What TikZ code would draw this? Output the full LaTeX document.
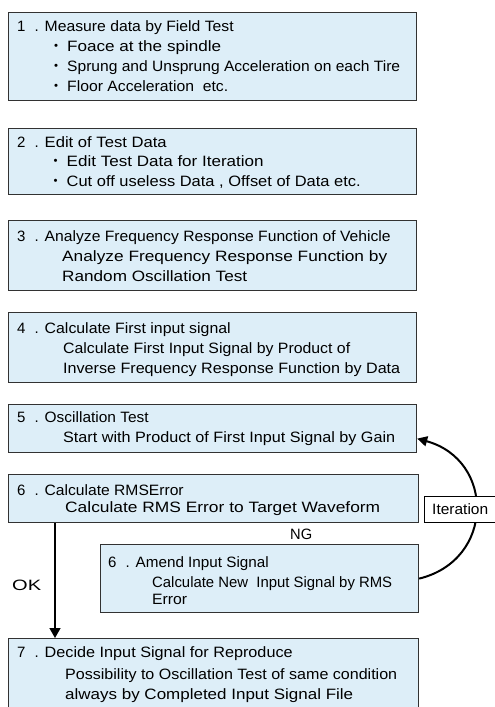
\documentclass[tikz,border=0pt]{standalone}
\usepackage{fontspec}
\usepackage{graphicx}
\setmainfont{Liberation Sans}
\newfontfamily\cjk{Noto Sans CJK JP}
\usetikzlibrary{arrows.meta}
\definecolor{boxfill}{RGB}{221,238,248}
\definecolor{boxline}{RGB}{50,50,50}
\newcommand{\bul}{{\cjk ・}\hspace{3.5pt}}
\newcommand{\num}[1]{#1\hspace{9pt}.\hspace{6pt}}
\newcommand{\tw}[2]{\resizebox{#1pt}{\height}{#2}}
\begin{document}
\begin{tikzpicture}[x=1pt,y=-1pt,
  box/.style={draw=boxline, fill=boxfill, line width=1.2pt, rectangle, inner sep=0pt, anchor=north west},
  txt/.style={anchor=base west, inner sep=0pt, font=\fontsize{15}{18}\selectfont},
  flow/.style={draw=black, line width=1.5pt}]
\useasboundingbox (0,0) rectangle (495,707);
\node[box, minimum width=408pt, minimum height=88pt] (b1) at (8,12) {};
\node[box, minimum width=408pt, minimum height=66pt] (b2) at (8,128) {};
\node[box, minimum width=408pt, minimum height=70pt] (b3) at (8,220) {};
\node[box, minimum width=408pt, minimum height=70pt] (b4) at (8,312) {};
\node[box, minimum width=408pt, minimum height=48pt] (b5) at (8,404) {};
\node[box, minimum width=410pt, minimum height=48pt] (b6) at (8,474) {};
\node[box, minimum width=318pt, minimum height=68pt] (bA) at (100,544) {};
\node[box, minimum width=410pt, minimum height=77pt] (b7) at (8,638) {};

\node[txt] (t1a) at (17,31) {\num{1}\tw{189}{Measure data by Field Test}};
\node[txt] (t1b) at (48.5,51) {\bul\tw{154}{Foace at the spindle}};
\node[txt] (t1c) at (48.5,71) {\bul\tw{333}{Sprung and Unsprung Acceleration on each Tire}};
\node[txt] (t1d) at (48.5,91) {\bul\tw{161}{Floor Acceleration\ \ etc.}};

\node[txt] (t2a) at (17,147) {\num{2}\tw{122}{Edit of Test Data}};
\node[txt] (t2b) at (48,166) {\bul\tw{197}{Edit Test Data for Iteration}};
\node[txt] (t2c) at (48,186) {\bul\tw{294}{Cut off useless Data , Offset of Data etc.}};

\node[txt] (t3a) at (17,241) {\num{3}\tw{346}{Analyze Frequency Response Function of Vehicle}};
\node[txt] (t3b) at (62,261) {\tw{325}{Analyze Frequency Response Function by}};
\node[txt] (t3c) at (62,281) {\tw{185}{Random Oscillation Test}};

\node[txt] (t4a) at (17,333) {\num{4}\tw{186}{Calculate First input signal}};
\node[txt] (t4b) at (63,353) {\tw{287}{Calculate First Input Signal by Product of}};
\node[txt] (t4c) at (63,373) {\tw{337}{Inverse Frequency Response Function by Data}};

\node[txt] (t5a) at (17,422) {\num{5}\tw{104}{Oscillation Test}};
\node[txt] (t5b) at (63,442) {\tw{332}{Start with Product of First Input Signal by Gain}};

\node[txt] (t6a) at (17,495) {\num{6}\tw{139}{Calculate RMSError}};
\node[txt] (t6b) at (65,512) {\tw{315}{Calculate RMS Error to Target Waveform}};

\node[txt] (tAa) at (108,567) {\num{6}\tw{133}{Amend Input Signal}};
\node[txt] (tAb) at (152,587) {\tw{240}{Calculate New\ \ Input Signal by RMS}};
\node[txt] (tAc) at (152,604) {\tw{35}{Error}};

\node[txt] (t7a) at (17,657) {\num{7}\tw{248}{Decide Input Signal for Reproduce}};
\node[txt] (t7b) at (65,679) {\tw{332}{Possibility to Oscillation Test of same condition}};
\node[txt] (t7c) at (65,699) {\tw{288}{always by Completed Input Signal File}};

\node[txt] (ng) at (290,539) {\tw{22}{NG}};
\node[txt] (ok) at (12,590) {\tw{29}{OK}};

\draw[flow, -{Triangle[length=10pt,width=11pt]}] ([xshift=47pt]b6.south west) -- ([xshift=47pt]b7.north west);
\draw[black, line width=2pt, -{Triangle[length=10pt,width=10pt]}] (bA.east) .. controls (495,560) and (495,460) .. ([yshift=-10pt]b5.east);
\node[draw=black, fill=white, line width=1.2pt, anchor=north west, minimum width=73pt, minimum height=26pt, inner sep=0pt] (it) at (424,496) {};
\node[txt] (itt) at (432,514) {\tw{56}{Iteration}};
\end{tikzpicture}
\end{document}
